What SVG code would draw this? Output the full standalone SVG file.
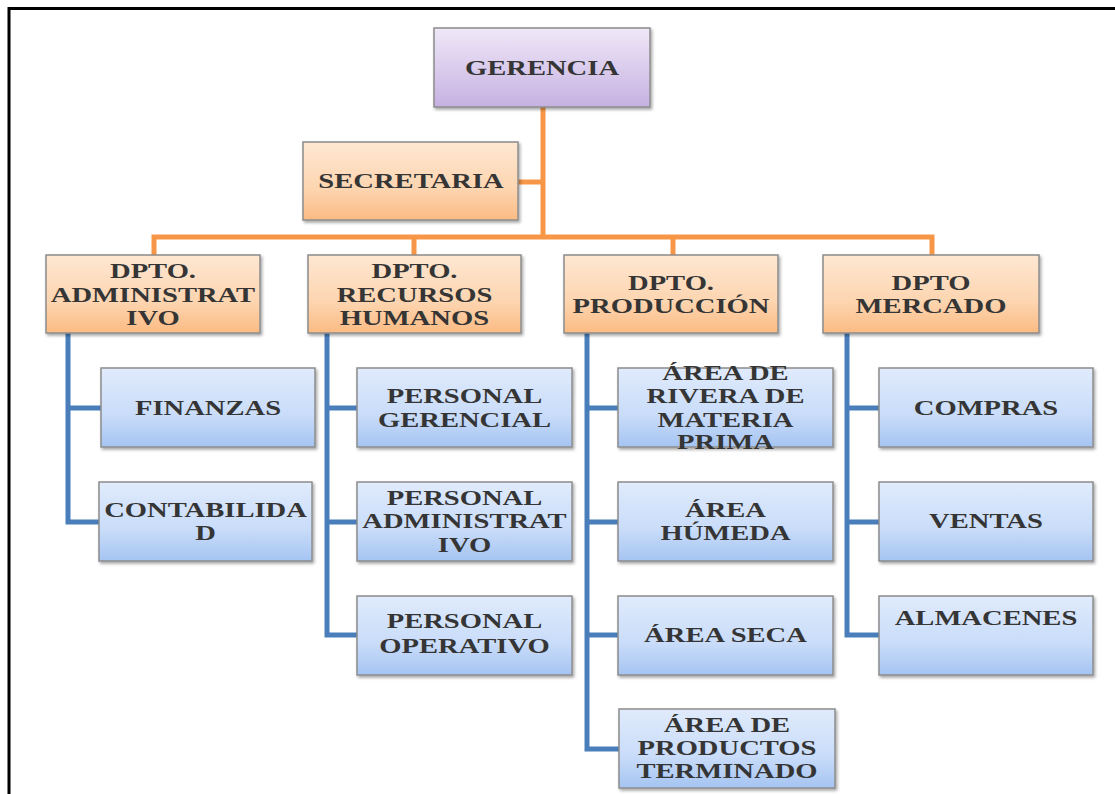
<svg xmlns="http://www.w3.org/2000/svg" width="1115" height="794" viewBox="0 0 1115 794">
<defs>
<linearGradient id="gPurple" x1="0" y1="0" x2="0" y2="1"><stop offset="0" stop-color="#efe8f7"/><stop offset="1" stop-color="#c6b1e2"/></linearGradient>
<linearGradient id="gOrange" x1="0" y1="0" x2="0" y2="1"><stop offset="0" stop-color="#fee7d2"/><stop offset="0.6" stop-color="#fdd5b0"/><stop offset="1" stop-color="#fbbb83"/></linearGradient>
<linearGradient id="gBlue" x1="0" y1="0" x2="0" y2="1"><stop offset="0" stop-color="#e0ebfc"/><stop offset="0.6" stop-color="#c9dcf9"/><stop offset="1" stop-color="#a5c4f2"/></linearGradient>
<filter id="sh" x="-5%" y="-5%" width="115%" height="120%"><feDropShadow dx="1.5" dy="2" stdDeviation="1.5" flood-color="#000" flood-opacity="0.35"/></filter>
</defs>
<style>
.box{stroke:#8c8c8c;stroke-width:1.5;filter:url(#sh)}
.p{fill:url(#gPurple)}
.o{fill:url(#gOrange)}
.b{fill:url(#gBlue)}
.t{font-family:"Liberation Serif","Times New Roman",serif;font-weight:bold;font-size:22px;fill:#353535;text-anchor:middle}
.oc{fill:none;stroke:#f79646;stroke-width:5}
.bc{fill:none;stroke:#4a7ebb;stroke-width:5}
</style>
<rect width="1115" height="794" fill="#fff"/>
<path d="M9 794 V8.5 H1115" fill="none" stroke="#000" stroke-width="3"/>
<g id="connectors">
<path class="oc" d="M543 107 V237 M518 182 H543 M154 255 V237 H932 V255 M414 237 V255 M673 237 V255"/>
<path class="bc" d="M68 333 V522 H99 M68 408 H101 M327 333 V635 H357 M327 408 H357 M327 522 H357 M587 333 V749 H619 M587 408 H618 M587 522 H618 M587 635 H618 M847 333 V635 H879 M847 408 H879 M847 522 H879"/>
</g>
<g id="gerencia"><rect class="box p" x="434" y="28" width="216" height="79"/><text class="t" transform="matrix(1.3 0 0 1 542 0)" x="0" y="75">GERENCIA</text></g>
<g id="secretaria"><rect class="box o" x="303" y="142" width="215" height="78"/><text class="t" transform="matrix(1.3 0 0 1 411 0)" x="0" y="188">SECRETARIA</text></g>
<g id="dpto-administrativo"><rect class="box o" x="46" y="255" width="214" height="78"/><text class="t" transform="matrix(1.3 0 0 1 153 0)"><tspan x="0" y="278">DPTO.</tspan><tspan x="0" y="302">ADMINISTRAT</tspan><tspan x="0" y="325">IVO</tspan></text></g>
<g id="dpto-rrhh"><rect class="box o" x="308" y="255" width="213" height="78"/><text class="t" transform="matrix(1.3 0 0 1 414.5 0)"><tspan x="0" y="278">DPTO.</tspan><tspan x="0" y="302">RECURSOS</tspan><tspan x="0" y="325">HUMANOS</tspan></text></g>
<g id="dpto-produccion"><rect class="box o" x="564" y="255" width="214" height="78"/><text class="t" transform="matrix(1.3 0 0 1 671 0)"><tspan x="0" y="290">DPTO.</tspan><tspan x="0" y="313">PRODUCCIÓN</tspan></text></g>
<g id="dpto-mercado"><rect class="box o" x="823" y="255" width="216" height="78"/><text class="t" transform="matrix(1.3 0 0 1 931 0)"><tspan x="0" y="290">DPTO</tspan><tspan x="0" y="313">MERCADO</tspan></text></g>
<g id="finanzas"><rect class="box b" x="101" y="368" width="214" height="79"/><text class="t" transform="matrix(1.3 0 0 1 208 0)" x="0" y="415">FINANZAS</text></g>
<g id="contabilidad"><rect class="box b" x="99" y="482" width="213" height="79"/><text class="t" transform="matrix(1.3 0 0 1 205.5 0)"><tspan x="0" y="517">CONTABILIDA</tspan><tspan x="0" y="540">D</tspan></text></g>
<g id="personal-gerencial"><rect class="box b" x="357" y="368" width="215" height="79"/><text class="t" transform="matrix(1.3 0 0 1 464.5 0)"><tspan x="0" y="403">PERSONAL</tspan><tspan x="0" y="427">GERENCIAL</tspan></text></g>
<g id="personal-administrativo"><rect class="box b" x="357" y="482" width="215" height="79"/><text class="t" transform="matrix(1.3 0 0 1 464.5 0)"><tspan x="0" y="505">PERSONAL</tspan><tspan x="0" y="528">ADMINISTRAT</tspan><tspan x="0" y="552">IVO</tspan></text></g>
<g id="personal-operativo"><rect class="box b" x="357" y="596" width="215" height="79"/><text class="t" transform="matrix(1.3 0 0 1 464.5 0)"><tspan x="0" y="628">PERSONAL</tspan><tspan x="0" y="653">OPERATIVO</tspan></text></g>
<g id="area-materia-prima"><rect class="box b" x="618" y="368" width="215" height="79"/><text class="t" transform="matrix(1.3 0 0 1 725.5 0)"><tspan x="0" y="380">ÁREA DE</tspan><tspan x="0" y="403">RIVERA DE</tspan><tspan x="0" y="427">MATERIA</tspan><tspan x="0" y="449">PRIMA</tspan></text></g>
<g id="area-humeda"><rect class="box b" x="618" y="482" width="215" height="79"/><text class="t" transform="matrix(1.3 0 0 1 725.5 0)"><tspan x="0" y="517">ÁREA</tspan><tspan x="0" y="540">HÚMEDA</tspan></text></g>
<g id="area-seca"><rect class="box b" x="618" y="596" width="215" height="79"/><text class="t" transform="matrix(1.3 0 0 1 725.5 0)" x="0" y="642">ÁREA SECA</text></g>
<g id="area-productos"><rect class="box b" x="619" y="709" width="216" height="79"/><text class="t" transform="matrix(1.3 0 0 1 727 0)"><tspan x="0" y="732">ÁREA DE</tspan><tspan x="0" y="755">PRODUCTOS</tspan><tspan x="0" y="778">TERMINADO</tspan></text></g>
<g id="compras"><rect class="box b" x="879" y="368" width="214" height="79"/><text class="t" transform="matrix(1.3 0 0 1 986 0)" x="0" y="415">COMPRAS</text></g>
<g id="ventas"><rect class="box b" x="879" y="482" width="214" height="79"/><text class="t" transform="matrix(1.3 0 0 1 986 0)" x="0" y="528">VENTAS</text></g>
<g id="almacenes"><rect class="box b" x="879" y="596" width="214" height="79"/><text class="t" transform="matrix(1.3 0 0 1 986 0)" x="0" y="625">ALMACENES</text></g>
</svg>
